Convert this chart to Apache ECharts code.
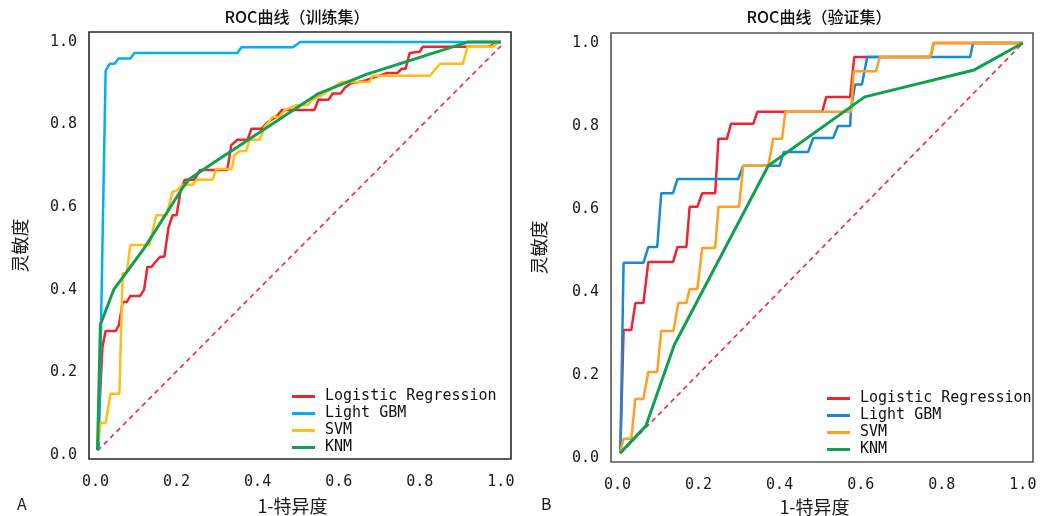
<!DOCTYPE html>
<html>
<head>
<meta charset="utf-8">
<script src="https://cdn.jsdelivr.net/npm/echarts@6/dist/echarts.min.js"></script>
<style>
  html, body { margin: 0; padding: 0; background: #fff; }
  #wrap { position: relative; width: 1045px; height: 516px; }
  #trainChart { position: absolute; left: 0; top: 0; width: 522px; height: 516px; }
  #validChart { position: absolute; left: 522px; top: 0; width: 523px; height: 516px; }
</style>
</head>
<body>
<div id="wrap">
  <div id="trainChart"></div>
  <div id="validChart"></div>
</div>
<script>
// 图例名称
const seriesNames = ["Logistic Regression", "Light GBM", "SVM", "KNM"];
const tickValues = [0, 0.2, 0.4, 0.6, 0.8, 1.0];

// 训练集 ROC 点 [1-特异度, 灵敏度]
const lrTrain = [[0.005,0.012],[0.017,0.26],[0.025,0.30],[0.05,0.30],[0.058,0.315],[0.067,0.37],[0.077,0.37],[0.086,0.385],[0.11,0.385],[0.12,0.40],[0.128,0.455],[0.138,0.455],[0.148,0.467],[0.16,0.48],[0.17,0.48],[0.18,0.55],[0.19,0.58],[0.2,0.58],[0.21,0.64],[0.22,0.666],[0.244,0.666],[0.258,0.69],[0.325,0.69],[0.335,0.75],[0.35,0.763],[0.375,0.763],[0.385,0.79],[0.41,0.79],[0.425,0.806],[0.445,0.818],[0.46,0.835],[0.54,0.835],[0.55,0.86],[0.575,0.86],[0.585,0.875],[0.605,0.875],[0.615,0.889],[0.63,0.9],[0.66,0.905],[0.72,0.925],[0.745,0.925],[0.755,0.935],[0.765,0.935],[0.775,0.973],[0.8,0.976],[0.807,0.988],[0.97,0.988],[0.985,0.995],[1.0,1.0]];
const gbmTrain = [[0.008,0.012],[0.025,0.93],[0.035,0.947],[0.047,0.947],[0.057,0.96],[0.086,0.96],[0.096,0.973],[0.35,0.973],[0.36,0.987],[0.487,0.987],[0.505,1.0],[1.0,1.0]];
const svmTrain = [[0.005,0.012],[0.012,0.077],[0.025,0.077],[0.037,0.148],[0.059,0.148],[0.067,0.44],[0.077,0.44],[0.086,0.508],[0.133,0.508],[0.15,0.58],[0.175,0.58],[0.19,0.637],[0.2,0.64],[0.215,0.654],[0.24,0.654],[0.249,0.666],[0.289,0.666],[0.298,0.692],[0.336,0.692],[0.343,0.726],[0.356,0.736],[0.372,0.736],[0.38,0.763],[0.405,0.763],[0.417,0.794],[0.437,0.818],[0.454,0.818],[0.467,0.835],[0.496,0.847],[0.523,0.847],[0.535,0.86],[0.56,0.872],[0.578,0.884],[0.607,0.903],[0.676,0.903],[0.684,0.918],[0.825,0.918],[0.835,0.93],[0.85,0.947],[0.906,0.947],[0.918,0.988],[0.98,0.988],[0.99,0.998],[1.0,1.0]];
const knmTrain = [[0.005,0.012],[0.012,0.315],[0.045,0.40],[0.12,0.50],[0.215,0.647],[0.232,0.668],[0.28,0.70],[0.55,0.875],[0.67,0.922],[0.92,1.0],[1.0,1.0]];
const refTrain = [[0.005,0.01],[1.0,0.99]];

// 验证集 ROC 点
const lrValid = [[0.007,0.012],[0.015,0.308],[0.034,0.308],[0.044,0.373],[0.064,0.373],[0.076,0.472],[0.137,0.472],[0.148,0.508],[0.17,0.508],[0.178,0.605],[0.197,0.605],[0.209,0.638],[0.241,0.638],[0.249,0.769],[0.27,0.769],[0.28,0.805],[0.335,0.805],[0.345,0.834],[0.505,0.834],[0.515,0.87],[0.574,0.87],[0.584,0.966],[0.772,0.966],[0.78,1.0],[1.0,1.0]];
const gbmValid = [[0.007,0.012],[0.015,0.47],[0.064,0.47],[0.076,0.508],[0.098,0.508],[0.108,0.638],[0.137,0.638],[0.148,0.672],[0.298,0.672],[0.31,0.704],[0.40,0.704],[0.41,0.737],[0.47,0.737],[0.483,0.771],[0.532,0.771],[0.544,0.80],[0.574,0.80],[0.576,0.84],[0.586,0.90],[0.603,0.90],[0.616,0.966],[0.87,0.966],[0.877,1.0],[1.0,1.0]];
const svmValid = [[0.007,0.015],[0.015,0.046],[0.034,0.046],[0.044,0.142],[0.064,0.142],[0.076,0.207],[0.098,0.207],[0.108,0.306],[0.138,0.306],[0.15,0.373],[0.17,0.373],[0.178,0.407],[0.197,0.407],[0.209,0.506],[0.241,0.506],[0.249,0.605],[0.30,0.605],[0.31,0.704],[0.372,0.704],[0.384,0.769],[0.406,0.769],[0.414,0.834],[0.576,0.834],[0.583,0.932],[0.638,0.932],[0.647,0.966],[0.772,0.966],[0.78,1.0],[1.0,1.0]];
const knmValid = [[0.007,0.012],[0.07,0.077],[0.14,0.272],[0.372,0.704],[0.61,0.87],[0.88,0.935],[1.0,1.0]];
const refValid = [[0.007,0.01],[1.0,1.0]];

const trainColors = ["#ee2430", "#00b0f0", "#ffbe10", "#12a050"];
const validColors = ["#ee2430", "#1a8ad0", "#ffa020", "#12a050"];

const monoFont = "DejaVu Sans Mono";
const cjkFont = "Noto Sans CJK SC";

function buildOption(cfg) {
  const axisLabel = {
    customValues: tickValues,
    formatter: (v) => v.toFixed(1),
    color: "#1a1a1a",
    fontFamily: monoFont,
    fontSize: 15,
  };
  const lines = cfg.data.map((d, i) => ({
    name: seriesNames[i],
    type: "line",
    data: d,
    symbol: "none",
    z: 3 + i,
    lineStyle: { color: cfg.colors[i], width: i === 3 ? 3 : 2.5 },
    itemStyle: { color: cfg.colors[i] },
  }));
  return {
    animation: false,
    backgroundColor: "transparent",
    title: {
      text: cfg.title,
      left: cfg.titleX,
      top: 9,
      padding: 0,
      textAlign: "center",
      textStyle: { fontFamily: cjkFont, fontSize: 16, fontWeight: 500, color: "#111" },
    },
    grid: {
      show: true,
      left: 89,
      top: cfg.gridTop,
      width: 422,
      height: cfg.gridHeight,
      containLabel: false,
      outerBoundsMode: "none",
      borderColor: cfg.frame,
      borderWidth: 1.6,
      backgroundColor: "#fff",
    },
    legend: {
      data: seriesNames,
      orient: "vertical",
      left: cfg.legendX,
      top: cfg.legendY,
      padding: 0,
      icon: "rect",
      itemWidth: 23,
      itemHeight: 3,
      itemGap: 0,
      textStyle: { fontFamily: monoFont, fontSize: 15, color: "#111", lineHeight: 17, padding: [0, 0, 0, 5] },
    },
    xAxis: {
      type: "value",
      min: -0.016,
      max: 1.025,
      name: "1-特异度",
      nameLocation: "middle",
      nameGap: cfg.xNameGap,
      nameTextStyle: { fontFamily: cjkFont, fontSize: 18, color: "#1a1a1a", padding: [0, 15, 0, 0] },
      axisLine: { show: false },
      axisTick: { show: false },
      splitLine: { show: false },
      axisLabel: Object.assign({ margin: 16 }, axisLabel),
    },
    yAxis: {
      type: "value",
      min: -0.01,
      max: 1.024,
      name: "灵敏度",
      nameLocation: "middle",
      nameGap: cfg.yNameGap,
      nameTextStyle: { fontFamily: cjkFont, fontSize: 18, color: "#1a1a1a" },
      axisLine: { show: false },
      axisTick: { show: false },
      splitLine: { show: false },
      axisLabel: Object.assign({ margin: 12 }, axisLabel),
    },
    graphic: [
      {
        type: "text",
        left: cfg.tagX,
        top: 496,
        style: { text: cfg.tag, font: "16px '" + cjkFont + "'", fill: "#1a1a1a" },
      },
    ],
    series: [
      {
        name: "ref",
        type: "line",
        data: cfg.ref,
        symbol: "none",
        z: 2,
        lineStyle: { color: "#f0304a", width: 1.7, type: [5, 4] },
      },
    ].concat(lines),
  };
}

const trainChart = echarts.init(document.getElementById("trainChart"));
trainChart.setOption(
  buildOption({
    title: "ROC曲线（训练集）",
    titleX: 297,
    gridTop: 32,
    gridHeight: 427,
    frame: "#2a2a2a",
    legendX: 292,
    legendY: 388,
    xNameGap: 38,
    yNameGap: 60,
    tag: "A",
    tagX: 17,
    colors: trainColors,
    data: [lrTrain, gbmTrain, svmTrain, knmTrain],
    ref: refTrain,
  })
);

const validChart = echarts.init(document.getElementById("validChart"));
validChart.setOption(
  buildOption({
    title: "ROC曲线（验证集）",
    titleX: 297,
    gridTop: 33,
    gridHeight: 429,
    frame: "#555",
    legendX: 305,
    legendY: 390,
    xNameGap: 36,
    yNameGap: 63,
    tag: "B",
    tagX: 19,
    colors: validColors,
    data: [lrValid, gbmValid, svmValid, knmValid],
    ref: refValid,
  })
);
</script>
</body>
</html>
